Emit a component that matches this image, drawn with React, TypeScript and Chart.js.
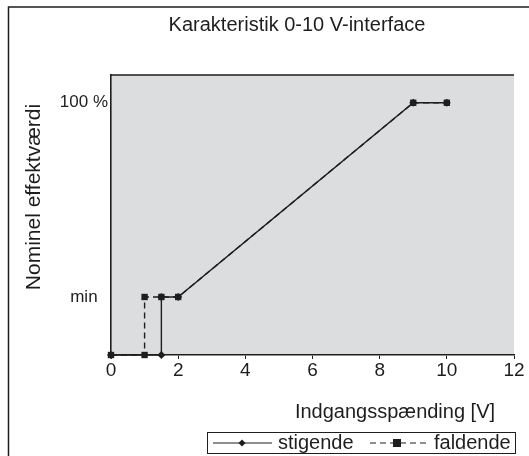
import React, { useEffect, useRef } from "react";
import { Chart, registerables } from "chart.js";

Chart.register(...registerables);

const MIN_LEVEL = 23;
const FULL_LEVEL = 100;

const TITLE = "Karakteristik 0-10 V-interface";
const X_TITLE = "Indgangsspænding [V]";
const Y_TITLE = "Nominel effektværdi";
const Y_TICK_VALUES = [MIN_LEVEL, FULL_LEVEL];
const Y_TICK_LABELS = ["min", "100 %"];

const SERIES_NAMES = ["stigende", "faldende"];
const stigendeX = [0, 1.5, 1.5, 2, 9, 10];
const stigendeY = [0, 0, MIN_LEVEL, MIN_LEVEL, FULL_LEVEL, FULL_LEVEL];
const faldendeX = [0, 1, 1, 1.5, 2, 9, 10];
const faldendeY = [0, 0, MIN_LEVEL, MIN_LEVEL, MIN_LEVEL, FULL_LEVEL, FULL_LEVEL];

const FONT = "'Liberation Sans', Arial, sans-serif";
const INK = "#1e1e1e";

const decorPlugin = {
  id: "decor",
  beforeDraw(chart: any) {
    const { ctx, chartArea } = chart;
    ctx.save();
    ctx.fillStyle = "#ffffff";
    ctx.fillRect(0, 0, chart.width, chart.height);
    ctx.fillStyle = "#dcdddf";
    ctx.fillRect(chartArea.left, chartArea.top, chartArea.right - chartArea.left, chartArea.bottom - chartArea.top);
    ctx.restore();
  },
  afterDraw(chart: any) {
    const { ctx, chartArea } = chart;
    ctx.save();
    // outer frame
    ctx.strokeStyle = INK;
    ctx.lineWidth = 1.5;
    ctx.beginPath();
    ctx.moveTo(8.5, 456);
    ctx.lineTo(8.5, 7);
    ctx.lineTo(529, 7);
    ctx.stroke();
    // plot top line
    ctx.lineWidth = 1.3;
    ctx.beginPath();
    ctx.moveTo(chartArea.left, chartArea.top);
    ctx.lineTo(chartArea.right, chartArea.top);
    ctx.stroke();

    ctx.fillStyle = INK;
    ctx.textBaseline = "middle";
    ctx.textAlign = "center";
    ctx.font = `20px ${FONT}`;
    ctx.fillText(TITLE, 297, 25);
    ctx.fillText(X_TITLE, 395, 412);
    ctx.save();
    ctx.translate(34, 197);
    ctx.rotate(-Math.PI / 2);
    ctx.font = `21px ${FONT}`;
    ctx.fillText(Y_TITLE, 0, 0);
    ctx.restore();

    // legend
    const bx = 207, by = 432, bw = 308, bh = 21;
    ctx.lineWidth = 1;
    ctx.strokeStyle = INK;
    ctx.strokeRect(bx + 0.5, by + 0.5, bw, bh);
    const cy = by + bh / 2 + 0.5;
    ctx.lineWidth = 1.2;
    ctx.beginPath();
    ctx.moveTo(213, cy);
    ctx.lineTo(272, cy);
    ctx.stroke();
    ctx.beginPath();
    ctx.moveTo(242, cy - 3.5);
    ctx.lineTo(245.5, cy);
    ctx.lineTo(242, cy + 3.5);
    ctx.lineTo(238.5, cy);
    ctx.closePath();
    ctx.fill();
    ctx.setLineDash([6, 4]);
    ctx.beginPath();
    ctx.moveTo(370, cy);
    ctx.lineTo(430, cy);
    ctx.stroke();
    ctx.setLineDash([]);
    ctx.fillRect(393, cy - 4, 8, 8);
    ctx.textAlign = "left";
    ctx.font = `20px ${FONT}`;
    ctx.fillText(SERIES_NAMES[0], 278, cy + 0.5);
    ctx.fillText(SERIES_NAMES[1], 434, cy + 0.5);
    ctx.restore();
  },
};

export default function App() {
  const ref = useRef<HTMLCanvasElement | null>(null);
  useEffect(() => {
    if (!ref.current) return;
    const chart = new Chart(ref.current, {
      type: "line",
      data: {
        datasets: [
          {
            label: SERIES_NAMES[0],
            data: stigendeX.map((x, i) => ({ x, y: stigendeY[i] })),
            borderColor: INK,
            backgroundColor: INK,
            borderWidth: 1.4,
            pointStyle: "rectRot",
            pointRadius: 4,
            pointBorderWidth: 0,
            clip: false as any,
          },
          {
            label: SERIES_NAMES[1],
            data: faldendeX.map((x, i) => ({ x, y: faldendeY[i] })),
            borderColor: INK,
            backgroundColor: INK,
            borderWidth: 1.4,
            borderDash: [6, 4],
            pointStyle: "rect",
            pointRadius: 4.5,
            pointBorderWidth: 0,
            clip: false as any,
          },
        ],
      },
      options: {
        animation: false,
        responsive: false,
        maintainAspectRatio: false,
        layout: { padding: { left: 0, right: 15, top: 75, bottom: 0 } },
        plugins: { legend: { display: false }, title: { display: false }, tooltip: { enabled: false } },
        scales: {
          x: {
            type: "linear",
            min: 0,
            max: 12,
            ticks: { stepSize: 2, color: INK, font: { size: 19, family: FONT }, padding: 0 },
            grid: { drawOnChartArea: false, drawTicks: true, tickLength: 4, color: INK },
            border: { display: true, color: INK, width: 1.6 },
            afterFit: (s: any) => { s.height = 101; },
          },
          y: {
            type: "linear",
            min: 0,
            max: 111,
            afterBuildTicks: (s: any) => { s.ticks = Y_TICK_VALUES.map((v) => ({ value: v })); },
            ticks: {
              color: INK,
              font: { size: 17, family: FONT },
              crossAlign: "center",
              padding: 3,
              callback: (v: any) => Y_TICK_LABELS[Y_TICK_VALUES.indexOf(v)] ?? "",
            },
            grid: { display: false, drawTicks: false, tickLength: 0 },
            border: { display: true, color: INK, width: 1.6 },
            afterFit: (s: any) => { s.width = 111; },
          },
        },
      },
      plugins: [decorPlugin],
    });
    return () => chart.destroy();
  }, []);
  return (
    <div style={{ position: "absolute", left: 0, top: 0, width: 529, height: 456 }}>
      <canvas ref={ref} width={529} height={456} style={{ display: "block" }} />
    </div>
  );
}
